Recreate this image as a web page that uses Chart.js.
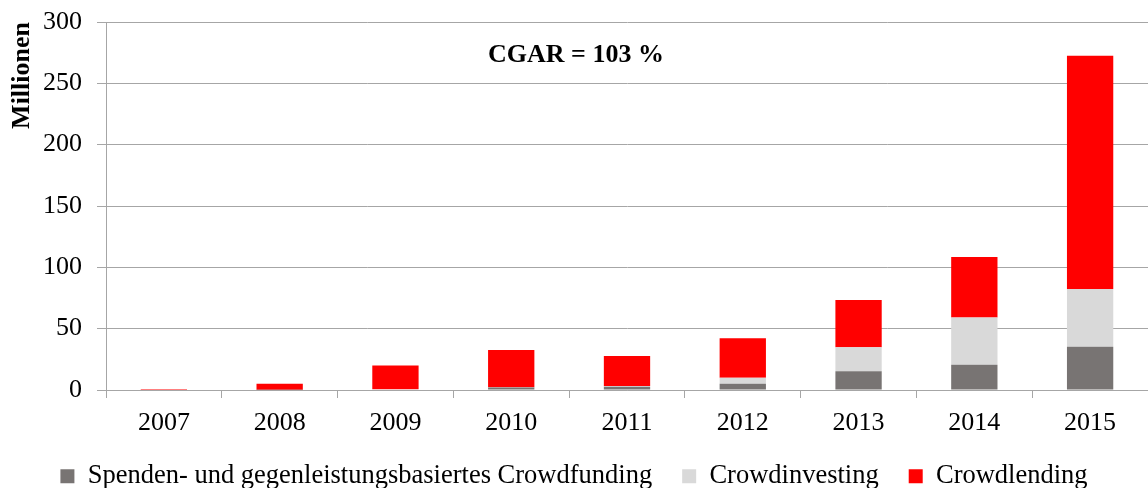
<!DOCTYPE html>
<html>
<head>
<meta charset="utf-8">
<script src="https://cdn.jsdelivr.net/npm/chart.js@4/dist/chart.umd.min.js"></script>
<style>
  html, body { margin: 0; padding: 0; background: #ffffff; }
  #wrap { width: 1148px; height: 488px; position: relative; }
</style>
</head>
<body>
<div id="wrap"><canvas id="c" width="1148" height="488"></canvas></div>
<script>
const years = ['2007', '2008', '2009', '2010', '2011', '2012', '2013', '2014', '2015'];
const spenden = [0, 0.2, 0.5, 2, 2.7, 5.1, 15.2, 20.6, 35.3];
const investing = [0, 0, 0.2, 0.3, 0.6, 4.9, 19.6, 38.6, 47];
const lending = [0.8, 4.8, 19.2, 30.3, 24.4, 32.1, 38.6, 49.2, 190.2];
const seriesNames = ['Spenden- und gegenleistungsbasiertes Crowdfunding', 'Crowdinvesting', 'Crowdlending'];
const yTitle = 'Millionen';
const annotationText = 'CGAR = 103 %';

const FONT = "'Liberation Serif', 'Times New Roman', serif";
const GRID = '#a6a6a6';

const annotate = {
  id: 'annotate',
  afterDraw(chart) {
    const ctx = chart.ctx;
    const a = chart.chartArea;
    ctx.save();
    ctx.font = "bold 26px " + FONT;
    ctx.fillStyle = '#000000';
    ctx.textAlign = 'center';
    ctx.textBaseline = 'alphabetic';
    ctx.fillText(annotationText, a.left + (a.right - a.left) * 0.451, a.top + 40);
    ctx.restore();
  }
};

new Chart(document.getElementById('c'), {
  type: 'bar',
  data: {
    labels: years,
    datasets: [
      { label: seriesNames[0], data: spenden, backgroundColor: '#787473', borderWidth: 0 },
      { label: seriesNames[1], data: investing, backgroundColor: '#d9d9d9', borderWidth: 0 },
      { label: seriesNames[2], data: lending, backgroundColor: '#ff0000', borderWidth: 0 }
    ]
  },
  options: {
    responsive: false,
    animation: false,
    devicePixelRatio: 1,
    layout: { padding: { top: 22, right: 0, left: 0, bottom: -11.5 } },
    datasets: { bar: { categoryPercentage: 1.0, barPercentage: 0.4 } },
    plugins: {
      legend: {
        position: 'bottom',
        labels: {
          font: { family: FONT, size: 26.5 },
          color: '#000000',
          boxWidth: 14,
          boxHeight: 14,
          padding: 30
        }
      },
      tooltip: { enabled: false },
      title: { display: false }
    },
    scales: {
      x: {
        stacked: true,
        afterFit(s) { s.height = 43; },
        grid: { drawOnChartArea: false, drawTicks: true, tickLength: 8, color: GRID, offset: true },
        border: { display: true, color: GRID, width: 1 },
        ticks: { font: { family: FONT, size: 26 }, color: '#000000', padding: 10, maxRotation: 0 }
      },
      y: {
        stacked: true,
        min: 0,
        max: 300,
        afterFit(s) { s.width = 106; s.paddingTop = 0; s.paddingBottom = 0; },
        ticks: { stepSize: 50, font: { family: FONT, size: 26 }, color: '#000000', padding: 15 },
        grid: { drawOnChartArea: true, drawTicks: true, tickLength: 9, color: GRID, lineWidth: 1 },
        border: { display: true, color: GRID, width: 1 },
        title: {
          display: true,
          text: yTitle,
          align: 'end',
          font: { family: FONT, size: 26, weight: 'bold' },
          color: '#000000',
          padding: { top: 7, bottom: 0 }
        }
      }
    }
  },
  plugins: [annotate]
});
</script>
</body>
</html>
